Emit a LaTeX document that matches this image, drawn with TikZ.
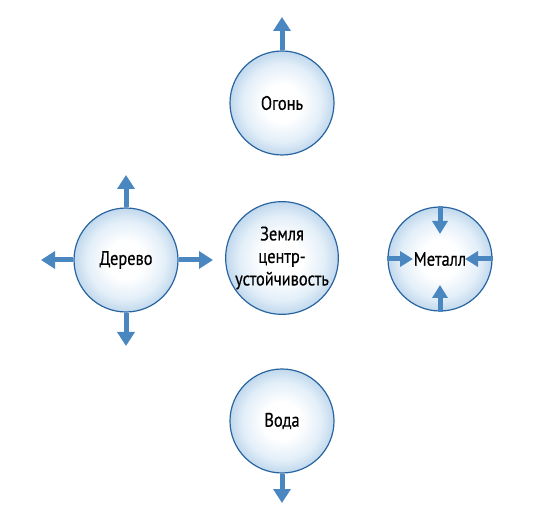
\documentclass[tikz,border=0pt]{standalone}
\usepackage{fontspec}
\setmainfont[FakeStretch=0.84,FakeBold=0.5]{PT Sans}
\usetikzlibrary{arrows.meta}
\definecolor{rimblue}{RGB}{40,100,160}
\definecolor{fillblue}{RGB}{192,216,237}
\definecolor{midblue}{RGB}{226,238,248}
\definecolor{arrblue}{RGB}{74,134,192}
\pgfdeclareradialshading{discshade}{\pgfpoint{0bp}{0bp}}{%
  color(0bp)=(white); color(9bp)=(white); color(19bp)=(midblue);
  color(25bp)=(fillblue); color(50bp)=(fillblue)}
\tikzset{
  elem/.style={circle,draw=rimblue,line width=1.2pt,minimum size=104pt,inner sep=0pt,
    shading=discshade,font=\fontsize{19.5}{22.5}\selectfont,align=center},
  arr/.style={draw=arrblue,line width=5pt,-{Triangle[width=17pt,length=14pt]}},
  arrin/.style={draw=arrblue,line width=5pt,-{Triangle[width=15pt,length=13pt]}}
}
\begin{document}
\begin{tikzpicture}[x=1pt,y=-1pt]
\useasboundingbox (0,0) rectangle (547,513);
\node[elem] (ogon) at (282,103) {Огонь};
\node[elem] (derevo) at (126,260) {Дерево};
\node[elem] (zemlya) at (282,258) {Земля\\центр-\\устойчивость};
\node[elem] (metall) at (440,259) {Металл};
\node[elem] (voda) at (282,421) {Вода};
\coordinate (ogonT) at (282,17);
\coordinate (derT) at (126,175);
\coordinate (derL) at (41,260);
\coordinate (derR) at (213,260);
\coordinate (derB) at (126,346);
\coordinate (metT) at (440,234);
\coordinate (metL) at (413,259);
\coordinate (metR) at (465,259);
\coordinate (metB) at (440,285);
\coordinate (vodaB) at (282,503);
\draw[arr] (ogon.north) -- (ogonT);
\draw[arr] (derevo.north) -- (derT);
\draw[arr] (derevo.west) -- (derL);
\draw[arr] (derevo.east) -- (derR);
\draw[arr] (derevo.south) -- (derB);
\draw[arr] (voda.south) -- (vodaB);
\draw[arrin] (metall.north) -- (metT);
\draw[arrin] (metall.west) -- (metL);
\draw[arrin] (metall.east) -- (metR);
\draw[arrin] (metall.south) -- (metB);
\end{tikzpicture}
\end{document}
